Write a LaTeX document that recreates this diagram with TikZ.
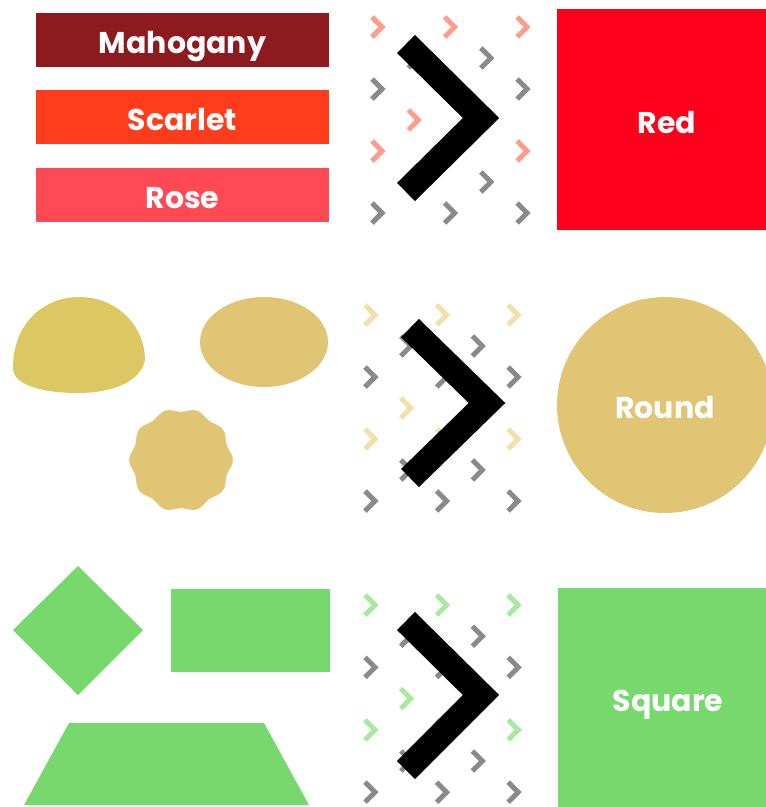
\documentclass[tikz,border=0pt]{standalone}
\usepackage{fontspec}
\setmainfont{Poppins}
\usetikzlibrary{positioning}
\definecolor{mahogany}{HTML}{8C1A1F}
\definecolor{scarlet}{HTML}{FF3D1C}
\definecolor{rose}{HTML}{FF4A55}
\definecolor{purered}{HTML}{FF001C}
\definecolor{domeyellow}{HTML}{DCC862}
\definecolor{sand}{HTML}{E0C674}
\definecolor{leaf}{HTML}{77D86E}
\definecolor{salmontick}{HTML}{FF9C8C}
\definecolor{sandtick}{HTML}{F2DFAA}
\definecolor{leaftick}{HTML}{A8E8A0}
\definecolor{greytick}{HTML}{8A8A8A}

\begin{document}
\begin{tikzpicture}[x=1pt,y=-1pt,
  txt/.style={text=white,font=\bfseries\fontsize{30}{30}\selectfont,text height=27pt,text depth=0pt},
  bar/.style={txt,inner sep=0pt,minimum width=293pt,minimum height=54pt},
  bigbox/.style={txt,inner sep=0pt,minimum width=220pt,minimum height=221pt},
  smallchev/.style={line width=5pt,line join=miter},
  bigchev/.style={line width=25.5pt,line join=miter,line cap=butt}]
\useasboundingbox (0,0) rectangle (766,807);
% ---------- background ticks ----------
\foreach \sx/\sy/\dx/\dy/\cc in {377/27/36.3/31/salmontick, 370/315/35.8/31/sandtick,
                                 370/605/35.8/31.2/leaftick}{
  \foreach \i/\tc in {0/\cc,1/greytick,2/greytick,3/\cc,4/\cc,5/greytick,6/greytick}{
    \foreach \j in {0,...,4}{
      \ifodd\numexpr\i+\j\relax\else
        \draw[smallchev,color=\tc,shift={({\sx+\j*\dx},{\sy+\i*\dy})}] (-5,-10) -- (5,0) -- (-5,10);
      \fi
    }
  }
}
% ---------- big arrows ----------
\draw[bigchev] (406,44) -- (481,118) -- (406,192);
\draw[bigchev] (410,328) -- (487,403) -- (410,478);
\draw[bigchev] (406,621) -- (481,695) -- (406,770);
% ---------- (1) colours ----------
\node[bar,fill=mahogany] (mahog) at (182.5,40) {Mahogany};
\node[bar,fill=scarlet,below=23pt of mahog] (scar) {Scarlet};
\node[bar,fill=rose,below=23pt of scar] (rose) {Rose};
\node[bigbox,fill=purered] (red) at (667,119.5) {Red};
% ---------- (2) round things ----------
\fill[domeyellow] (13,368) .. controls (13,322) and (45,297) .. (79,297)
   .. controls (117,297) and (145,326) .. (145,360)
   .. controls (140,384) and (108,393) .. (78,393)
   .. controls (45,393) and (13,386) .. (13,368) -- cycle;
\fill[sand] (264,342) ellipse [x radius=64, y radius=45];
\fill[sand] plot[domain=0:360,samples=181,variable=\t]
   ({181+(50+1.8*cos(10*\t))*cos(\t)},{460+(50+1.8*cos(10*\t))*sin(\t)}) -- cycle;
\node[txt,circle,fill=sand,inner sep=0pt,minimum size=216pt] (round) at (665,405) {Round};
% ---------- (3) square things ----------
\fill[leaf] (78,566) -- (143,630) -- (78,695) -- (13,630) -- cycle;
\fill[leaf] (171,589) rectangle (330,672);
\fill[leaf] (69,723) -- (264,723) -- (309,805) -- (24,805) -- cycle;
\node[bigbox,fill=leaf] (square) at (668,698) {Square};
\end{tikzpicture}
\end{document}
